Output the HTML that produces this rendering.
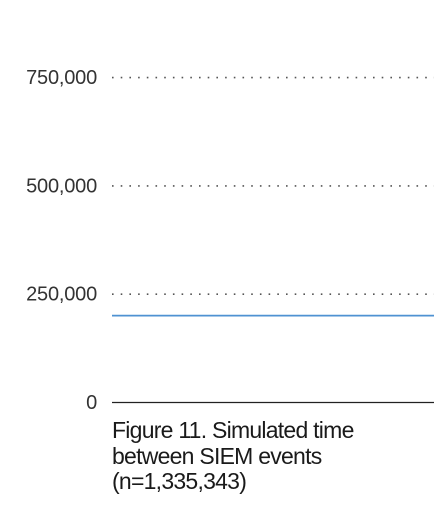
<!DOCTYPE html>
<html><head><meta charset="utf-8"><style>
html,body{margin:0;padding:0;background:#fff;width:447px;height:511px;overflow:hidden}
svg{display:block}
.cap{position:absolute;left:112px;top:418px;font-family:"Liberation Sans",sans-serif;font-size:23px;line-height:25.5px;color:#1a1a1a;letter-spacing:-0.75px}
</style></head><body>
<svg id="chart" width="447" height="420" xmlns="http://www.w3.org/2000/svg"></svg>
<div class="cap">Figure 11. Simulated time<br>between SIEM events<br>(n=1,335,343)</div>
<script>
const tickValues=[0,250000,500000,750000];
const tickLabels=["0","250,000","500,000","750,000"];
const seriesValues=[200500];
const NS="http://www.w3.org/2000/svg";
const svg=document.getElementById('chart');
const x0=112,x1=434,y0=402.5,pxPer=108.3/250000;
function y(v){return y0-v*pxPer;}
tickValues.forEach((v,i)=>{
  const t=document.createElementNS(NS,'text');
  
  
  t.setAttribute('x',97);t.setAttribute('y',y(v)+6.5);
  t.setAttribute('text-anchor','end');
  t.setAttribute('font-family','Liberation Sans, sans-serif');
  t.setAttribute('font-size','20');t.setAttribute('letter-spacing','-0.2');t.setAttribute('fill','#333');
  t.textContent=tickLabels[i];svg.appendChild(t);
  const l=document.createElementNS(NS,'line');
  
  
  l.setAttribute('x1',x0);l.setAttribute('x2',x1);
  l.setAttribute('y1',y(v));l.setAttribute('y2',y(v));
  if(v===0){l.setAttribute('stroke','#222');l.setAttribute('stroke-width','1.2');}
  else{l.setAttribute('stroke','#555');l.setAttribute('stroke-width','1.6');l.setAttribute('stroke-dasharray','1.6 7.1');}
  svg.appendChild(l);
});
seriesValues.forEach(v=>{
  const l=document.createElementNS(NS,'line');
  
  
  l.setAttribute('x1',x0);l.setAttribute('x2',x1);
  l.setAttribute('y1',y(v));l.setAttribute('y2',y(v));
  l.setAttribute('stroke','#4f92d2');l.setAttribute('stroke-width','1.8');
  svg.appendChild(l);
});
</script>
</body></html>
